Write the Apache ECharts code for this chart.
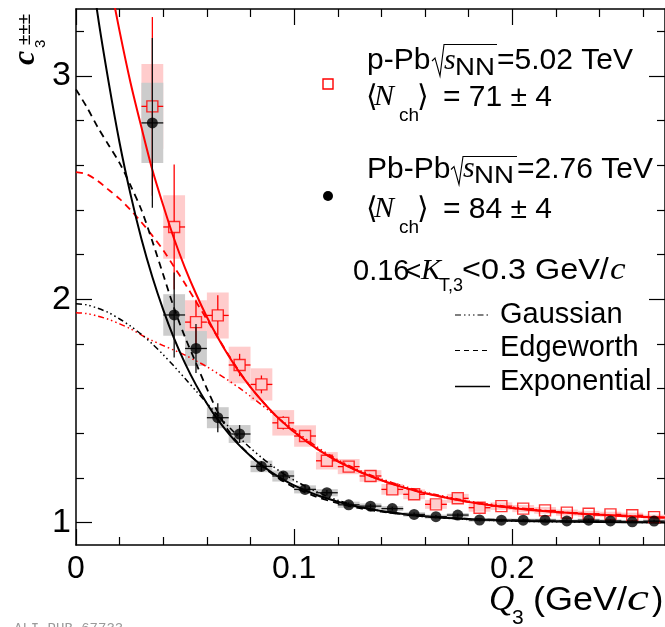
<!DOCTYPE html>
<html><head><meta charset="utf-8">
<script src="https://cdn.jsdelivr.net/npm/echarts@6/dist/echarts.min.js"></script>
<style>html,body{margin:0;padding:0;background:#fff}#c{width:665px;height:627px}</style>
</head><body><div id="c"></div>
<script>
// ---------------- DATA ----------------
const qBins = [0.035,0.045,0.055,0.065,0.075,0.085,0.095,0.105,0.115,0.125,0.135,0.145,0.155,0.165,0.175,0.185,0.195,0.205,0.215,0.225,0.235,0.245,0.255,0.265];
const binHalfWidth = 0.005;

const pbpbC3   = [2.79,1.93,1.78,1.47,1.397,1.252,1.209,1.149,1.134,1.080,1.074,1.063,1.037,1.027,1.034,1.012,1.011,1.011,1.011,1.008,1.011,1.008,1.004,1.007];
const pbpbStat = [0.38,0.19,0.11,0.065,0.04,0.022,0.018,0.012,0.012,0.010,0.010,0.008,0.008,0.007,0.007,0.006,0.006,0.006,0.006,0.006,0.006,0.006,0.006,0.006];
const pbpbSys  = [0.18,0.093,0.078,0.047,0.04,0.026,0.025,0.018,0.016,0.014,0.012,0.011,0.010,0.009,0.009,0.008,0.008,0.007,0.007,0.007,0.007,0.007,0.007,0.007];

const ppbC3    = [2.864,2.324,1.898,1.928,1.706,1.619,1.447,1.388,1.277,1.251,1.209,1.149,1.127,1.082,1.109,1.067,1.074,1.063,1.055,1.045,1.040,1.037,1.033,1.025];
const ppbStat  = [0.40,0.28,0.10,0.09,0.05,0.04,0.03,0.025,0.022,0.020,0.018,0.016,0.015,0.014,0.013,0.012,0.012,0.011,0.011,0.010,0.010,0.010,0.010,0.010];
const ppbSys   = [0.19,0.142,0.098,0.103,0.082,0.072,0.057,0.048,0.039,0.034,0.026,0.024,0.022,0.020,0.020,0.018,0.017,0.016,0.015,0.014,0.013,0.012,0.012,0.011];

const curveQ   = [0,0.005,0.01,0.015,0.02,0.025,0.03,0.035,0.04,0.045,0.05,0.055,0.06,0.065,0.07,0.075,0.08,0.085,0.09,0.095,0.1,0.11,0.12,0.13,0.14,0.15,0.16,0.18,0.2,0.22,0.24,0.27];
const pbpbExpo = [4.04,3.63,3.27,2.97,2.70,2.47,2.27,2.10,1.953,1.824,1.713,1.617,1.534,1.461,1.399,1.345,1.299,1.258,1.223,1.193,1.167,1.125,1.094,1.070,1.052,1.039,1.029,1.016,1.009,1.005,1.003,1.001];
const pbpbEdge = [2.94,2.86,2.77,2.69,2.61,2.51,2.40,2.26,2.11,1.96,1.83,1.715,1.60,1.495,1.41,1.348,1.30,1.256,1.218,1.186,1.158,1.117,1.087,1.065,1.049,1.037,1.028,1.017,1.011,1.007,1.005,1.003];
const pbpbGaus = [1.98,1.975,1.96,1.94,1.912,1.88,1.843,1.80,1.752,1.70,1.645,1.59,1.535,1.48,1.43,1.38,1.334,1.292,1.254,1.22,1.19,1.14,1.10,1.072,1.052,1.037,1.027,1.014,1.007,1.004,1.002,1.001];
const ppbExpo  = [4.39,4.03,3.72,3.45,3.20,2.97,2.77,2.58,2.42,2.27,2.14,2.025,1.921,1.829,1.746,1.672,1.607,1.548,1.495,1.448,1.406,1.334,1.275,1.228,1.190,1.158,1.132,1.093,1.066,1.048,1.035,1.022];
const ppbEdge  = [2.57,2.56,2.53,2.49,2.45,2.40,2.345,2.285,2.22,2.145,2.07,1.99,1.91,1.83,1.75,1.675,1.607,1.548,1.495,1.448,1.406,1.334,1.275,1.228,1.190,1.158,1.132,1.093,1.066,1.048,1.035,1.022];
const ppbGaus  = [1.94,1.936,1.925,1.91,1.89,1.868,1.84,1.815,1.793,1.772,1.75,1.725,1.698,1.668,1.636,1.602,1.566,1.528,1.49,1.452,1.415,1.342,1.282,1.234,1.196,1.164,1.137,1.097,1.07,1.05,1.036,1.023];

const xTickLabels = [0, 0.1, 0.2];
const xMinorTicks = [0.02,0.04,0.06,0.08,0.12,0.14,0.16,0.18,0.22,0.24,0.26];
const yTickLabels = [1, 2, 3];
const yMinorTicks = [1.2,1.4,1.6,1.8,2.2,2.4,2.6,2.8,3.2];
const xRange = [0, 0.27];
const yRange = [0.9, 3.3];

// ---------------- STYLE ----------------
const SANS = '"Liberation Sans", Arial, Helvetica, sans-serif';
const SERIF = '"Liberation Serif", "Times New Roman", serif';
const RED = '#ff0000', BLACK = '#000000';

const pairs = (xs, ys) => xs.map((x, i) => [x, ys[i]]);
const boxData = (vals, sys) => qBins.map((q, i) => [q, vals[i] - sys[i], vals[i] + sys[i]]);
const errData = (vals, st) => qBins.map((q, i) => [q, vals[i], st[i]]);

function boxRender(params, api) {
  const x = api.value(0), lo = api.value(1), hi = api.value(2);
  const a = api.coord([x - binHalfWidth, hi]);
  const b = api.coord([x + binHalfWidth, lo]);
  return { type: 'rect', shape: { x: a[0], y: a[1], width: b[0] - a[0], height: b[1] - a[1] },
           style: { fill: api.visual('color') } };
}
function errRender(gap) {
  return function (params, api) {
    const x = api.value(0), y = api.value(1), e = api.value(2);
    const c = api.coord([x, y]);
    const top = api.coord([x, y + e]), bot = api.coord([x, y - e]);
    const l = api.coord([x - binHalfWidth, y]), r = api.coord([x + binHalfWidth, y]);
    const col = api.visual('color');
    const st = { stroke: col, lineWidth: 1.3 };
    const ch = [];
    if (top[1] < c[1] - gap) ch.push({ type: 'line', shape: { x1: c[0], y1: top[1], x2: c[0], y2: c[1] - gap }, style: st });
    if (bot[1] > c[1] + gap) ch.push({ type: 'line', shape: { x1: c[0], y1: c[1] + gap, x2: c[0], y2: bot[1] }, style: st });
    ch.push({ type: 'line', shape: { x1: l[0], y1: c[1], x2: c[0] - gap, y2: c[1] }, style: st });
    ch.push({ type: 'line', shape: { x1: c[0] + gap, y1: c[1], x2: r[0], y2: c[1] }, style: st });
    return { type: 'group', children: ch };
  };
}
function curve(name, ys, color, type, width) {
  return { type: 'line', name, data: pairs(curveQ, ys), showSymbol: false, symbol: 'none',
           smooth: 0.3, clip: true, z: 3, silent: true,
           lineStyle: { color, width, type } };
}
const DASH = [7, 5];
const GAUS = [6, 3, 1.5, 3, 1.5, 3, 1.5, 3];

function mkX(pos, vals, len, showLine, labels) {
  return { type: 'value', position: pos, min: xRange[0], max: xRange[1],
    axisLine: { show: showLine, onZero: false, lineStyle: { color: BLACK, width: 1.5 } },
    axisTick: { show: true, inside: true, length: len, customValues: vals, lineStyle: { color: BLACK, width: 1.2 } },
    axisLabel: labels ? { show: true, customValues: xTickLabels, fontSize: 32, fontFamily: SANS, color: BLACK, margin: 8 } : { show: false },
    splitLine: { show: false }, minorTick: { show: false } };
}
function mkY(pos, vals, len, showLine, labels) {
  return { type: 'value', position: pos, min: yRange[0], max: yRange[1],
    axisLine: { show: showLine, onZero: false, lineStyle: { color: BLACK, width: 1.5 } },
    axisTick: { show: true, inside: true, length: len, customValues: vals, lineStyle: { color: BLACK, width: 1.2 } },
    axisLabel: labels ? { show: true, customValues: yTickLabels, fontSize: 34, fontFamily: SANS, color: BLACK, margin: 5 } : { show: false },
    splitLine: { show: false }, minorTick: { show: false } };
}

// text helper: x = left, base = baseline
function T(x, base, text, size, family, style, sx) {
  return { type: 'text', x: x, y: base - 0.35 * size, scaleX: sx || 1, silent: true, z: 100,
    style: { text: text, font: (style || 'normal') + ' ' + size + 'px ' + family, fill: BLACK, align: 'left', verticalAlign: 'middle' } };
}
function radical(x0, yTop, yBase, x1) {
  return { type: 'polyline', silent: true, z: 100,
    shape: { points: [[x0, yBase - 11], [x0 + 3, yBase - 14], [x0 + 8, yBase + 4], [x0 + 12, yTop], [x1, yTop]] },
    style: { stroke: BLACK, fill: null, lineWidth: 1.1 } };
}

const graphics = [
  // y-axis title c_3^{±±±}
  { type: 'text', x: 26, y: 65, rotation: Math.PI / 2, silent: true, z: 100,
    style: { text: 'c', font: 'bold italic 32px ' + SERIF, fill: BLACK, align: 'left', verticalAlign: 'middle' } },
  { type: 'text', x: 41, y: 48, rotation: Math.PI / 2, silent: true, z: 100,
    style: { text: '3', font: '15px ' + SANS, fill: BLACK, align: 'left', verticalAlign: 'middle' } },
  { type: 'text', x: 25, y: 45, rotation: Math.PI / 2, silent: true, z: 100,
    style: { text: '±±±', font: '19px ' + SANS, fill: BLACK, align: 'left', verticalAlign: 'middle' } },
  // x-axis title Q_3 (GeV/c)
  T(489, 613, 'Q', 35, SERIF, 'italic'),
  T(512, 626, '3', 21, SANS),
  T(533, 613, '(GeV/', 34, SANS, 'normal', 1.06),
  T(627, 613, 'c', 38, SERIF, 'italic', 1.3),
  T(652, 613, ')', 34, SANS),
  // p-Pb block
  T(367, 71.7, 'p-Pb', 30, SANS),
  radical(432, 44.5, 72, 497),
  T(444, 71.7, 's', 30, SERIF, 'italic'),
  T(455, 77, 'NN', 23, SANS, 'normal', 1.2),
  T(497, 71.7, '=5.02 TeV', 30, SANS),
  T(366, 108, '\u27E8', 30, SANS),
  T(374, 108, 'N', 30, SERIF, 'italic'),
  T(399, 122, 'ch', 19, SANS),
  T(417, 108, '\u27E9', 30, SANS),
  T(443, 108, '= 71 \u00B1 4', 30, SANS),
  // Pb-Pb block
  T(367, 180, 'Pb-Pb', 30, SANS),
  radical(451, 156.5, 180.5, 517),
  T(463, 180, 's', 30, SERIF, 'italic'),
  T(474, 185, 'NN', 23, SANS, 'normal', 1.2),
  T(517, 180, '=2.76 TeV', 30, SANS),
  T(366, 220, '\u27E8', 30, SANS),
  T(374, 220, 'N', 30, SERIF, 'italic'),
  T(399, 234, 'ch', 19, SANS),
  T(417, 220, '\u27E9', 30, SANS),
  T(443, 220, '= 84 \u00B1 4', 30, SANS),
  // kT range
  T(353, 281.7, '0.16', 29, SANS),
  T(405, 281.7, '<', 28, SANS),
  T(421, 281.7, 'K', 30, SERIF, 'italic'),
  T(439, 292, 'T,3', 18, SANS),
  T(462, 281.7, '<0.3 GeV/', 30, SANS, 'normal', 1.08),
  T(610, 281.7, 'c', 32, SERIF, 'italic', 1.1),
  // legend for fit functions
  { type: 'line', silent: true, z: 100, shape: { x1: 455, y1: 315, x2: 490, y2: 315 }, style: { stroke: BLACK, lineWidth: 1.2, lineDash: GAUS } },
  { type: 'line', silent: true, z: 100, shape: { x1: 455, y1: 350.5, x2: 490, y2: 350.5 }, style: { stroke: BLACK, lineWidth: 1.2, lineDash: [5, 4] } },
  { type: 'line', silent: true, z: 100, shape: { x1: 455, y1: 386.5, x2: 490, y2: 386.5 }, style: { stroke: BLACK, lineWidth: 1.5 } },
  T(500, 325, 'Gaussian', 29, SANS),
  T(500, 358.5, 'Edgeworth', 29, SANS),
  T(500, 392, 'Exponential', 29, SANS),
  // marker legend
  { type: 'rect', silent: true, z: 100, shape: { x: 323, y: 79, width: 10, height: 10 }, style: { stroke: RED, fill: null, lineWidth: 1.4 } },
  { type: 'circle', silent: true, z: 100, shape: { cx: 328, cy: 196, r: 5 }, style: { fill: BLACK } },
  // figure ID
  { type: 'text', x: 14, y: 629, silent: true, z: 100,
    style: { text: 'ALI-PUB-67733', font: '14px "Liberation Mono", "DejaVu Sans Mono", monospace', fill: '#9a9a9a', align: 'left', verticalAlign: 'middle' } }
];

const chart = echarts.init(document.getElementById('c'), null, { renderer: 'canvas' });
chart.setOption({
  animation: false,
  backgroundColor: '#ffffff',
  grid: { left: 76, top: 9, right: -1.5, bottom: 82, containLabel: false },
  xAxis: [ mkX('bottom', xTickLabels, 16, true, true), mkX('bottom', xMinorTicks, 8, false, false),
           mkX('top', xTickLabels, 16, true, false), mkX('top', xMinorTicks, 8, false, false) ],
  yAxis: [ mkY('left', yTickLabels, 16, true, true), mkY('left', yMinorTicks, 8, false, false),
           mkY('right', yTickLabels, 16, true, false), mkY('right', yMinorTicks, 8, false, false) ],
  series: [
    { type: 'custom', name: 'p-Pb sys', data: boxData(ppbC3, ppbSys), renderItem: boxRender, itemStyle: { color: '#ffcccc' }, z: 1, clip: true, silent: true },
    { type: 'custom', name: 'Pb-Pb sys', data: boxData(pbpbC3, pbpbSys), renderItem: boxRender, itemStyle: { color: '#cccccc' }, z: 2, clip: true, silent: true },
    curve('p-Pb Gaussian', ppbGaus, RED, GAUS, 1.5),
    curve('p-Pb Edgeworth', ppbEdge, RED, DASH, 1.8),
    curve('p-Pb Exponential', ppbExpo, RED, 'solid', 2),
    curve('Pb-Pb Gaussian', pbpbGaus, BLACK, GAUS, 1.5),
    curve('Pb-Pb Edgeworth', pbpbEdge, BLACK, DASH, 1.8),
    curve('Pb-Pb Exponential', pbpbExpo, BLACK, 'solid', 2),
    { type: 'custom', name: 'p-Pb stat', data: errData(ppbC3, ppbStat), renderItem: errRender(5.5), itemStyle: { color: RED }, z: 4, clip: true, silent: true },
    { type: 'scatter', name: 'p-Pb', data: pairs(qBins, ppbC3), symbol: 'rect', symbolSize: 11, z: 5, silent: true,
      itemStyle: { color: 'rgba(0,0,0,0)', borderColor: RED, borderWidth: 1.4 } },
    { type: 'custom', name: 'Pb-Pb stat', data: errData(pbpbC3, pbpbStat), renderItem: errRender(0), itemStyle: { color: '#111' }, z: 6, clip: true, silent: true },
    { type: 'scatter', name: 'Pb-Pb', data: pairs(qBins, pbpbC3), symbol: 'circle', symbolSize: 11, z: 7, silent: true,
      itemStyle: { color: BLACK } }
  ],
  graphic: { elements: graphics }
});
</script></body></html>
